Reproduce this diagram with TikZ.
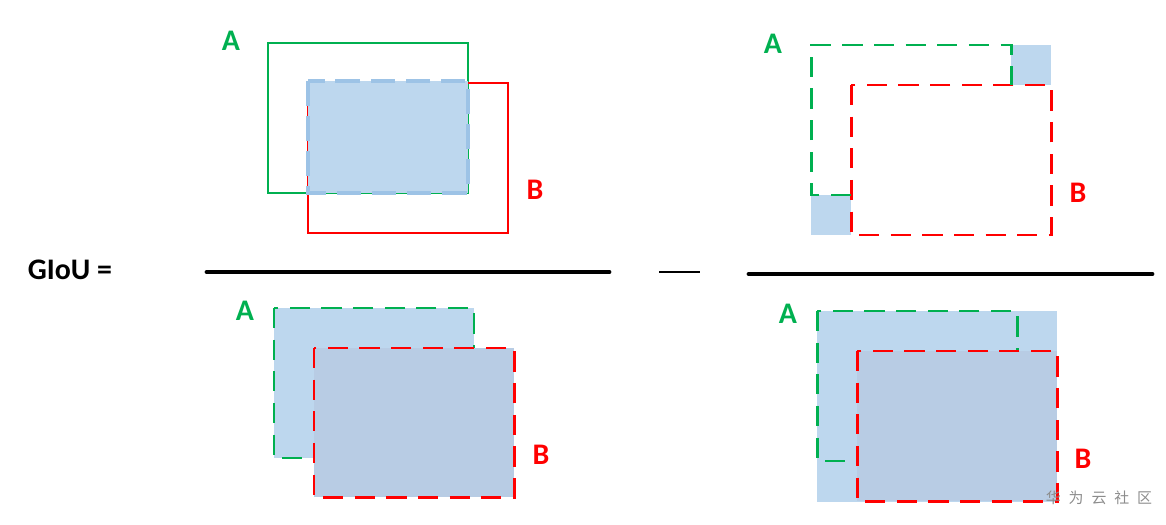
\documentclass[tikz,border=0pt]{standalone}
\usepackage{fontspec}
\setmainfont{Carlito}
\newfontfamily\cjkfont{Noto Sans CJK SC}
\definecolor{box_green}{RGB}{0,176,80}
\definecolor{box_red}{RGB}{255,0,0}
\definecolor{area_blue}{RGB}{189,215,238}
\definecolor{edge_blue}{RGB}{157,195,230}
\definecolor{inner_blue}{RGB}{184,204,228}

\begin{document}
\begin{tikzpicture}[x=0.02cm, y=-0.02cm,
    solidbox/.style={line width=1.6pt},
    dashbox/.style={line width=1.7pt, dash pattern=on 11.5pt off 6.5pt},
    lbl/.style={font=\bfseries\fontsize{17}{20}\selectfont}]
        \useasboundingbox (0,0) rectangle (1166,524);
        % numerator left: intersection of A and B
        \draw[box_green,solidbox] (268,43) rectangle (468,193);
        \draw[box_red,solidbox] (308,83) rectangle (508,233);
        \fill[area_blue] (308,81) rectangle (468,193);
        \draw[edge_blue,line width=2.4pt,dash pattern=on 14pt off 6pt] (308,81) rectangle (468,193);
        \node[lbl,box_green] (labA1) at (231,41) {A};
        \node[lbl,box_red] (labB1) at (535,190) {B};
        % numerator right: C minus the union
        \fill[area_blue] (1011,45) rectangle (1051,85);
        \fill[area_blue] (811,195) rectangle (851,235);
        \draw[box_red,dashbox] (851,85) rectangle (1051,235);
        \draw[box_green,dashbox] (851,195) -- (811,195) -- (811,45) -- (1011,45) -- (1011,85);
        \node[lbl,box_green] (labA2) at (773,44) {A};
        \node[lbl,box_red] (labB2) at (1078,193) {B};
        % fraction bars
        \node[lbl] (giou) at (70,270) {GIoU =};
        \coordinate (barL1) at (207,272);
        \coordinate (barL2) at (609,272);
        \coordinate (minus1) at (659,272);
        \coordinate (minus2) at (700,272);
        \coordinate (barR1) at (749,274);
        \coordinate (barR2) at (1152,274);
        \draw[line width=2.8pt,line cap=round] (barL1) -- (barL2);
        \draw[line width=0.8pt] (minus1) -- (minus2);
        \draw[line width=2.8pt,line cap=round] (barR1) -- (barR2);
        % denominator left: union of A and B
        \fill[area_blue] (274,308) rectangle (474,458);
        \draw[box_green,dashbox] (274,308) rectangle (474,458);
        \fill[inner_blue] (314,348) rectangle (514,497);
        \draw[box_red,dashbox] (314,348) rectangle (514,497);
        \node[lbl,box_green] (labA3) at (245,311) {A};
        \node[lbl,box_red] (labB3) at (541,455) {B};
        % denominator right: enclosing box C
        \fill[area_blue] (817,311) rectangle (1057,502);
        \draw[box_green,dashbox] (817,311) rectangle (1017,461);
        \fill[inner_blue] (857,351) rectangle (1057,501);
        \draw[box_red,dashbox] (857,351) rectangle (1057,501);
        \node[lbl,box_green] (labA4) at (788,314) {A};
        \node[lbl,box_red] (labB4) at (1083,459) {B};
        \node[text=black!45,font=\cjkfont\fontsize{8.5}{10}\selectfont] (mark) at (1099,498)
          {华\hspace{4.5pt}为\hspace{4.5pt}云\hspace{4.5pt}社\hspace{4.5pt}区};
      \end{tikzpicture}
\end{document}
